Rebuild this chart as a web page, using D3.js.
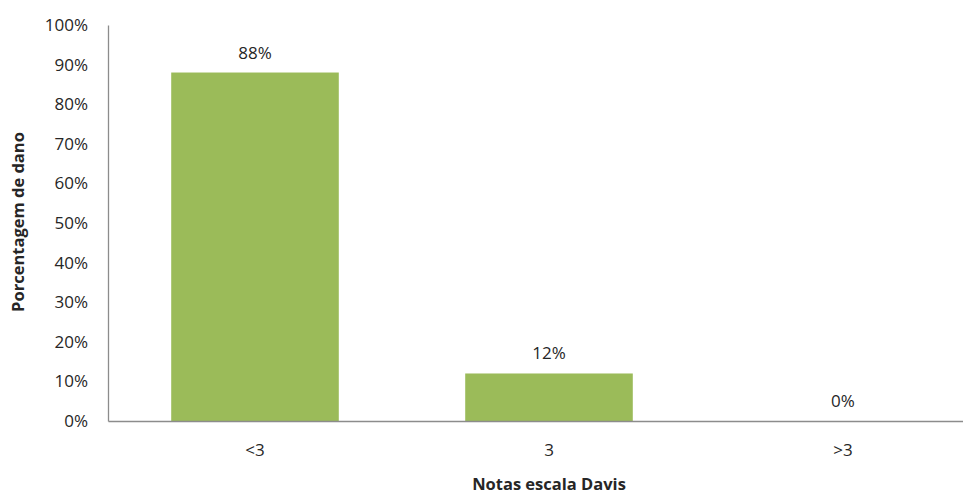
<!DOCTYPE html>
<html lang="pt">
<head>
    <meta charset="UTF-8">
    <script src="https://cdn.jsdelivr.net/npm/d3@7"></script>
    <title>Notas escala Davis</title>
    <style>
        * { margin: 0; padding: 0; box-sizing: border-box; }
        body { background: white; overflow: hidden; }
        svg { display: block; }
        svg text { font-family: "Open Sans", "Liberation Sans", sans-serif; fill: #262626; }
    </style>
</head>
<body>
    <svg width="963" height="494"></svg>
    <script>
        let categories = ['<3', '3', '>3']
        let values = [0.88, 0.12, 0]
        let yTicks = [0, 0.1, 0.2, 0.3, 0.4, 0.5, 0.6, 0.7, 0.8, 0.9, 1]

        let svg = d3.select('svg')

        let xScale = d3.scaleBand()
            .domain(categories)
            .range([108, 990])
            .paddingInner(0.43)
            .paddingOuter(0.215)

        let yScale = d3.scaleLinear()
            .domain([0, 1])
            .range([421, 25])

        let fmt = d3.format('.0%')

        // y axis
        let yAxis = svg.append('g')
            .attr('transform', 'translate(108, 0)')
            .call(d3.axisLeft(yScale).tickValues(yTicks).tickFormat(fmt).tickSize(0).tickPadding(20))
        yAxis.select('.domain').attr('stroke', '#8c8c8c').attr('stroke-width', 1.3)
        yAxis.selectAll('text').attr('font-size', 17).attr('fill', '#262626')

        // bars
        svg.selectAll('rect.bar')
            .data(values)
            .join('rect')
            .attr('class', 'bar')
            .attr('x', (d, i) => xScale(categories[i]))
            .attr('y', d => yScale(d))
            .attr('width', xScale.bandwidth())
            .attr('height', d => yScale(0) - yScale(d))
            .attr('fill', '#9bbb59')

        // x axis
        let xAxis = svg.append('g')
            .attr('transform', 'translate(0, 421)')
            .call(d3.axisBottom(xScale).tickSize(0).tickPadding(23))
        xAxis.select('.domain').attr('stroke', '#8c8c8c').attr('stroke-width', 1.3)
        xAxis.selectAll('text').attr('font-size', 17).attr('fill', '#262626')

        // value labels
        svg.selectAll('text.val')
            .data(values)
            .join('text')
            .attr('class', 'val')
            .attr('x', (d, i) => xScale(categories[i]) + xScale.bandwidth() / 2)
            .attr('y', d => yScale(d) - 14)
            .attr('text-anchor', 'middle')
            .attr('font-size', 17)
            .text(d => fmt(d))

        // axis titles
        svg.append('text')
            .attr('x', 549)
            .attr('y', 490)
            .attr('text-anchor', 'middle')
            .attr('font-size', 16.5)
            .attr('font-weight', 'bold')
            .text('Notas escala Davis')

        svg.append('text')
            .attr('transform', 'translate(24, 222) rotate(-90)')
            .attr('text-anchor', 'middle')
            .attr('font-size', 16.5)
            .attr('font-weight', 'bold')
            .text('Porcentagem de dano')
    </script>
</body>
</html>
